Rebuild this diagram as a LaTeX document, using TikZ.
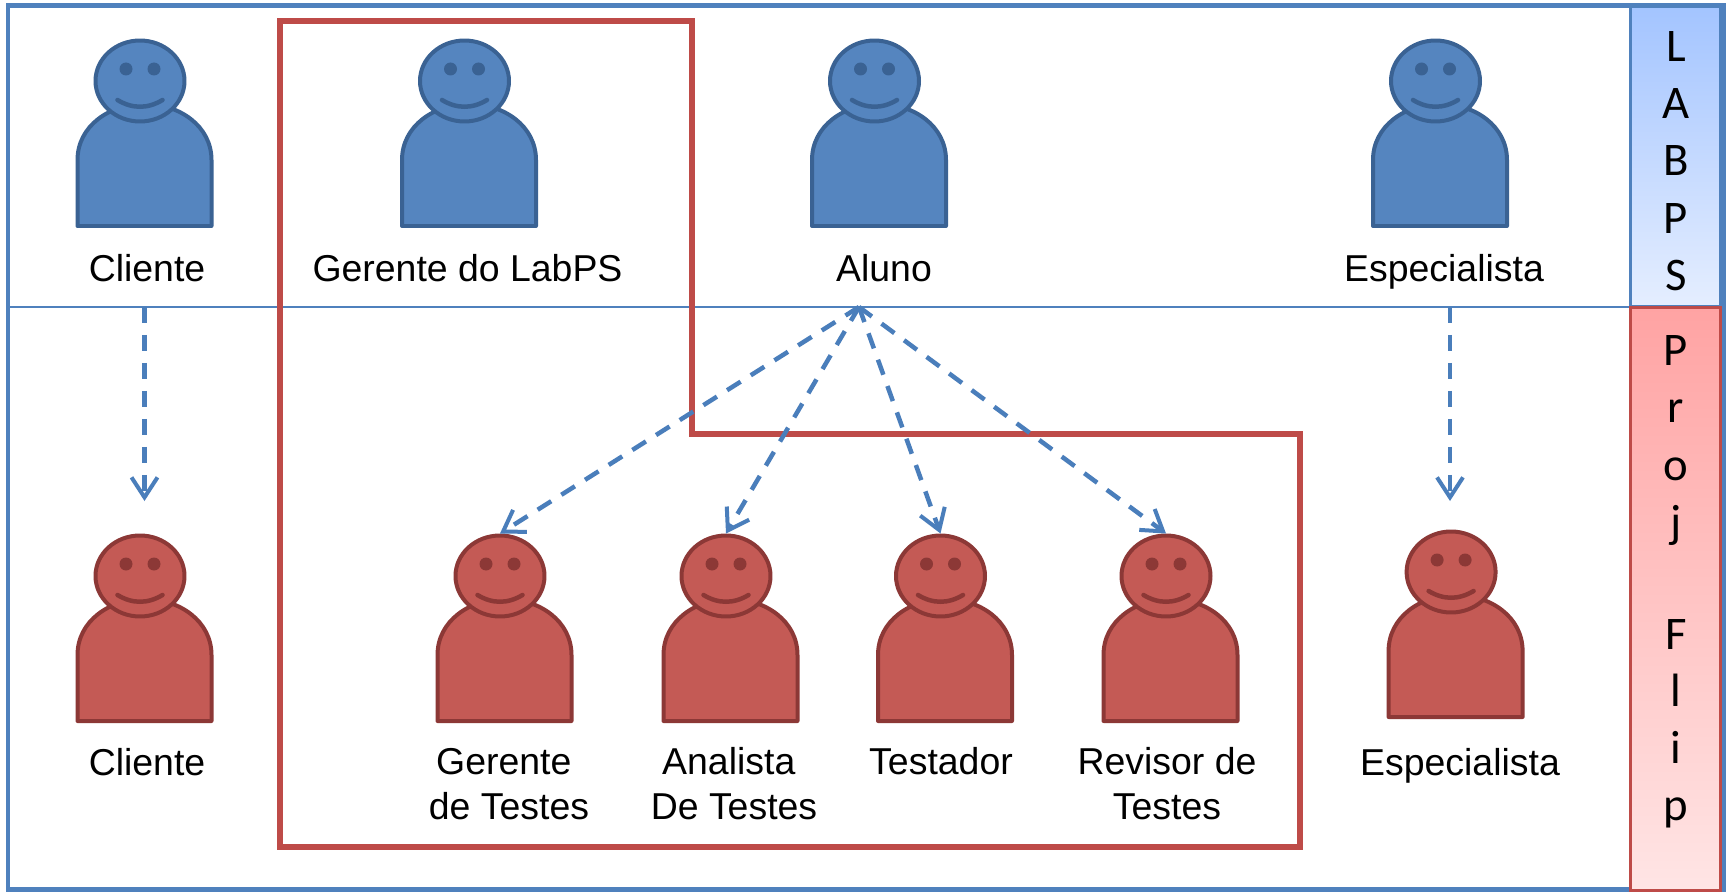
\documentclass[tikz,border=0pt]{standalone}
\usepackage{fontspec}
\setmainfont{Liberation Sans}
\newfontfamily\sidefont{Carlito}
\usetikzlibrary{arrows.meta,shapes.geometric}
\definecolor{frameblue}{HTML}{4F81BD}
\definecolor{lineblue}{HTML}{4A7EBB}
\definecolor{boxred}{HTML}{BE4B48}
\definecolor{bluefill}{HTML}{5585BF}
\definecolor{bluedraw}{HTML}{3A6293}
\definecolor{redfill}{HTML}{C45A55}
\definecolor{reddraw}{HTML}{8C3836}
\definecolor{bluetop}{HTML}{A3C4FF}
\definecolor{bluebot}{HTML}{E5EEFF}
\definecolor{redtop}{HTML}{FFA3A3}
\definecolor{redbot}{HTML}{FFE5E5}
\tikzset{
  label/.style={font=\fontsize{21.3}{25.6}\selectfont,align=center,inner sep=0pt},
  relation/.style={lineblue,line width=.09cm,dash pattern=on .32cm off .24cm,
    -{Straight Barb[length=.4cm,width=.52cm,line width=.08cm]}},
  sidecol/.style={minimum width=1.8cm,draw,line width=.06cm,inner sep=0pt},
  sidetext/.style={font=\sidefont\fontsize{26.6}{32.6}\selectfont,align=center,inner sep=0pt}
}
% #1 name, #2 body centre x, #3 body bottom y, #4 fill, #5 outline
\newcommand{\person}[5]{
  \draw[#5,fill=#4,line width=.08cm,line join=round]
    (#2-67,#3) -- (#2-67,#3-66) .. controls (#2-67,#3-100) and (#2-35,#3-122) .. (#2,#3-122)
    .. controls (#2+35,#3-122) and (#2+67,#3-100) .. (#2+67,#3-66) -- (#2+67,#3) -- cycle;
  \node[ellipse,draw=#5,fill=#4,line width=.08cm,inner sep=0pt,minimum width=1.78cm,minimum height=1.62cm] (#1) at (#2-4.5,#3-145) {};
  \fill[#5] (#2-18.5,#3-157) circle (6.5) (#2+9.5,#3-157) circle (6.5);
  \draw[#5,line width=.09cm,line cap=round] (#2-27,#3-126) .. controls (#2-12,#3-117) and (#2+3,#3-117) .. (#2+18,#3-126);
}
\begin{document}
\begin{tikzpicture}[x=.02cm,y=-.02cm]
  \useasboundingbox (0,0) rectangle (1729,892);
  \fill[white] (0,0) rectangle (1729,892);
  \draw[frameblue,line width=.1cm] (8,6) rectangle (1723,889);

  \person{hClienteA}{144.5}{226}{bluefill}{bluedraw}
  \person{hGerenteA}{469}{226}{bluefill}{bluedraw}
  \person{hAluno}{879}{226}{bluefill}{bluedraw}
  \person{hEspecA}{1440}{226}{bluefill}{bluedraw}

  \person{hClienteB}{144.5}{721}{redfill}{reddraw}
  \person{hGerenteB}{504.5}{721}{redfill}{reddraw}
  \person{hAnalista}{730.5}{721}{redfill}{reddraw}
  \person{hTestador}{945}{721}{redfill}{reddraw}
  \person{hRevisor}{1170.5}{721}{redfill}{reddraw}
  \person{hEspecB}{1455.6}{717}{redfill}{reddraw}

  \node[label] (lClienteA) at (147,268) {Cliente};
  \node[label] (lGerenteA) at (467.5,268) {Gerente do LabPS};
  \node[label] (lAluno) at (884,268) {Aluno};
  \node[label] (lEspecA) at (1444,272) {Especialista};

  \node[label] (lClienteB) at (147,762) {Cliente};
  \node[label] (lGerenteB) at (509,784) {Gerente\kern.28em\\de Testes};
  \node[label] (lAnalista) at (734,784) {Analista\kern.28em\\De Testes};
  \node[label] (lTestador) at (941,761) {Testador};
  \node[label] (lRevisor) at (1167,784) {Revisor de\\Testes};
  \node[label] (lEspecB) at (1460,766) {Especialista};

  \draw[frameblue,line width=.04cm] (8,306.5) -- (1630,306.5);
  \draw[boxred,line width=.11cm] (280,21) -- (692,21) -- (692,434) -- (1300,434)
    -- (1300,847) -- (280,847) -- cycle;

  \coordinate (outCliente) at (144.5,307);
  \coordinate (inCliente) at (144.5,501);
  \coordinate (outAluno) at (859,307);
  \coordinate (outEspec) at (1450,307);
  \coordinate (inEspec) at (1450,501);

  \draw[relation] (outCliente) -- (inCliente);
  \draw[relation] (outEspec) -- (inEspec);
  \draw[relation] (outAluno) -- (hGerenteB.north);
  \draw[relation] (outAluno) -- (hAnalista.north);
  \draw[relation] (outAluno) -- (hTestador.north);
  \draw[relation] (outAluno) -- (hRevisor.north);

  \node[sidecol,draw=frameblue,top color=bluetop,bottom color=bluebot,minimum height=6.02cm] (colLabps) at (1675,156.5) {};
  \node[sidecol,draw=boxred,top color=redtop,bottom color=redbot,minimum height=11.68cm] (colProj) at (1675,599) {};
  \node[sidetext] (txtLabps) at (1676,161) {L\\A\\B\\P\\S};
  \node[sidetext] (txtProj) at (1676,582) {P\\r\\o\\j\\[31pt]F\\l\\i\\p};
\end{tikzpicture}
\end{document}
